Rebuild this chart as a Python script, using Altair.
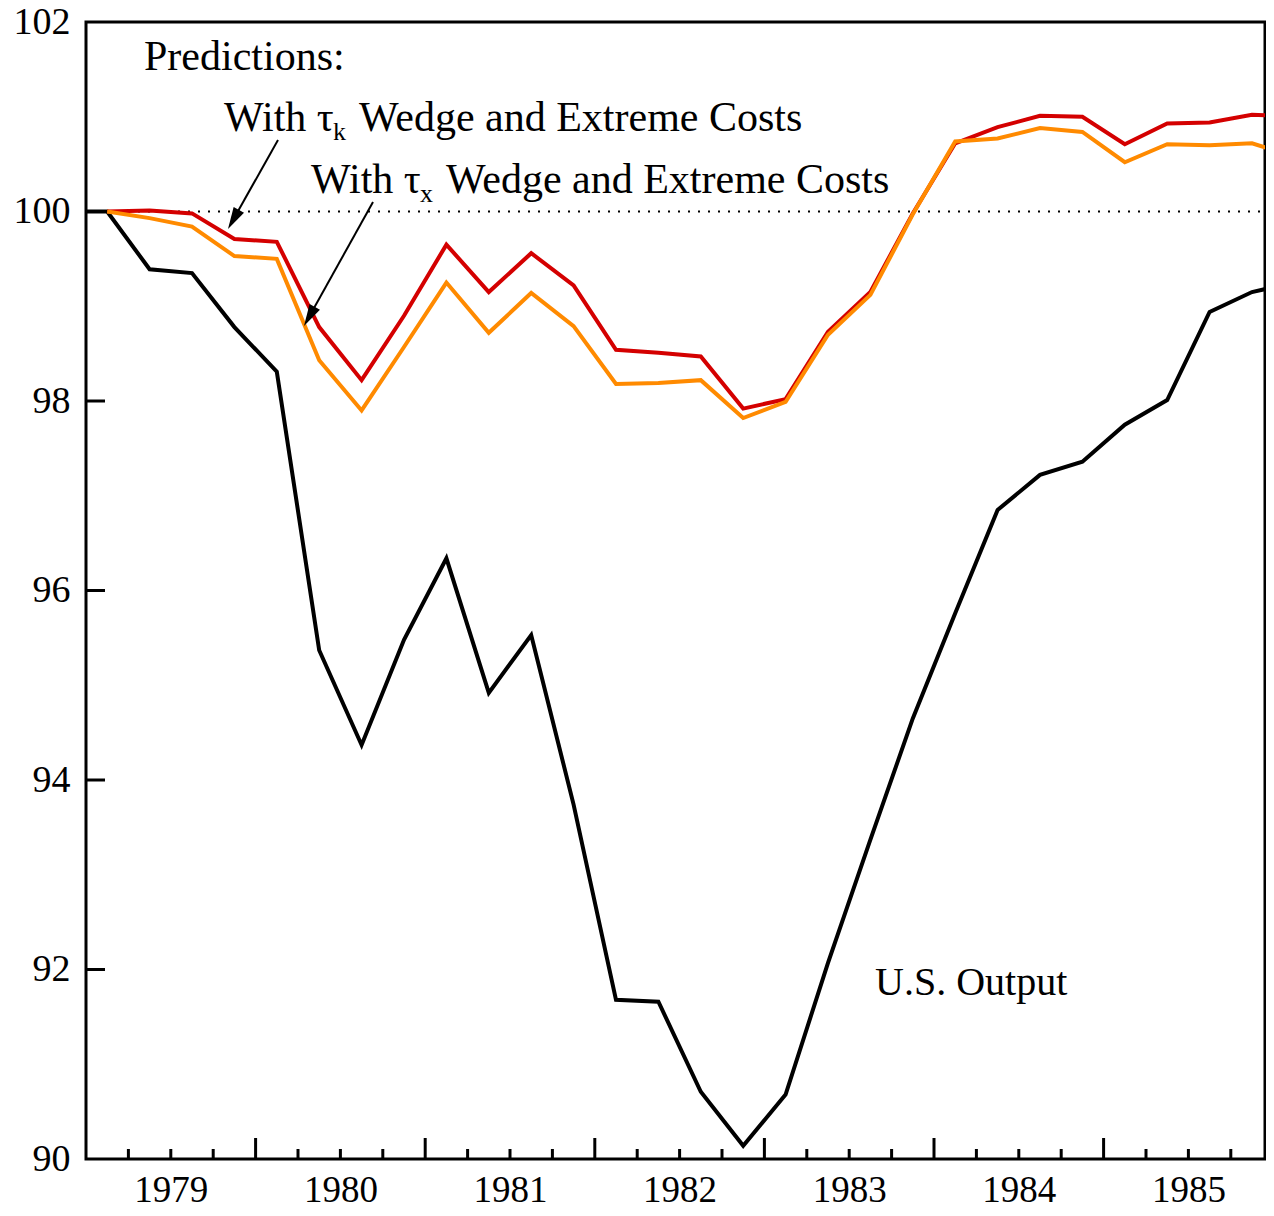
import altair as alt
import pandas as pd

# ---------------- data ----------------
quarters = [
    "1978Q4",
    "1979Q1", "1979Q2", "1979Q3", "1979Q4",
    "1980Q1", "1980Q2", "1980Q3", "1980Q4",
    "1981Q1", "1981Q2", "1981Q3", "1981Q4",
    "1982Q1", "1982Q2", "1982Q3", "1982Q4",
    "1983Q1", "1983Q2", "1983Q3", "1983Q4",
    "1984Q1", "1984Q2", "1984Q3", "1984Q4",
    "1985Q1", "1985Q2", "1985Q3", "1985Q4",
    "1986Q1",
]

us_output = [
    100.0,
    100.0, 99.39, 99.35, 98.78,
    98.31, 95.37, 94.37, 95.48,
    96.34, 94.92, 95.53, 93.74,
    91.68, 91.66, 90.71, 90.14,
    90.68, 92.07, 93.37, 94.65,
    95.76, 96.85, 97.22, 97.36,
    97.75, 98.01, 98.94, 99.15,
    99.25,
]

tau_k_pred = [
    None,
    100.0, 100.01, 99.98, 99.71,
    99.68, 98.78, 98.22, 98.90,
    99.65, 99.15, 99.56, 99.22,
    98.54, 98.51, 98.47, 97.92,
    98.02, 98.73, 99.15, 99.98,
    100.72, 100.89, 101.01, 101.00,
    100.71, 100.93, 100.94, 101.02,
    101.01,
]

tau_x_pred = [
    None,
    100.0, 99.93, 99.84, 99.53,
    99.50, 98.43, 97.90, 98.57,
    99.25, 98.72, 99.14, 98.79,
    98.18, 98.19, 98.22, 97.82,
    97.99, 98.70, 99.12, 99.97,
    100.74, 100.77, 100.88, 100.84,
    100.52, 100.71, 100.70, 100.72,
    100.58,
]

year_labels = ["1979", "1980", "1981", "1982", "1983", "1984", "1985"]
y_labels = [90, 92, 94, 96, 98, 100, 102]
y_inner_ticks = [92, 94, 96, 98, 100]
major_ticks = [1980, 1981, 1982, 1983, 1984, 1985]
minor_ticks = [y + q / 4 for y in range(1979, 1986) for q in (1, 2, 3)]

FONT = "Liberation Serif"
PX_PER_YEAR = 169.6
W, H = 1179, 1137
X_END = 1979 + W / PX_PER_YEAR


def qpos(q):
    return int(q[:4]) + (int(q[5]) - 0.5) / 4


xs = [qpos(q) for q in quarters]


def series_df(vals):
    return pd.DataFrame(
        [{"quarter": q, "x": x, "v": v} for q, x, v in zip(quarters, xs, vals) if v is not None]
    )


df_us = series_df(us_output)
df_k = series_df(tau_k_pred)
df_x = series_df(tau_x_pred)

xscale = alt.Scale(domain=[1979, X_END], nice=False, zero=False)
yscale = alt.Scale(domain=[90, 102], nice=False, zero=False)

x_axis = alt.Axis(
    values=[int(y) + 0.5 for y in year_labels],
    labelExpr="'' + floor(datum.value)",
    ticks=False, domain=False, grid=False, title=None,
    labelFont=FONT, labelFontSize=37, labelColor="black",
    labelPadding=13, labelFlush=False, labelOverlap=False,
)
y_axis = alt.Axis(
    values=y_labels, format="d",
    ticks=False, domain=False, grid=False, title=None,
    labelFont=FONT, labelFontSize=38, labelColor="black",
    labelPadding=16, labelFlush=False, labelOverlap=False,
)

X = alt.X("x:Q", scale=xscale, axis=x_axis)
Y = alt.Y("v:Q", scale=yscale, axis=y_axis)

# reference dotted line at 100
ref = alt.Chart(pd.DataFrame({"v": [100]})).mark_rule(
    color="black", strokeWidth=2, strokeDash=[2, 8]
).encode(y=alt.Y("v:Q", scale=yscale), x=alt.value(2), x2=alt.value(W - 2))

line_us = alt.Chart(df_us).mark_line(color="black", strokeWidth=4, clip=True).encode(x=X, y=Y)
line_k = alt.Chart(df_k).mark_line(color="#d40000", strokeWidth=4, clip=True).encode(
    x=alt.X("x:Q", scale=xscale), y=alt.Y("v:Q", scale=yscale))
line_x = alt.Chart(df_x).mark_line(color="#ff8a00", strokeWidth=4, clip=True).encode(
    x=alt.X("x:Q", scale=xscale), y=alt.Y("v:Q", scale=yscale))

# inward ticks on the bottom axis
maj = alt.Chart(pd.DataFrame({"x": major_ticks})).mark_rule(color="black", strokeWidth=3).encode(
    x=alt.X("x:Q", scale=xscale), y=alt.value(H), y2=alt.value(H - 21))
mnr = alt.Chart(pd.DataFrame({"x": minor_ticks})).mark_rule(color="black", strokeWidth=3).encode(
    x=alt.X("x:Q", scale=xscale), y=alt.value(H), y2=alt.value(H - 10))
# inward ticks on the left axis
yt = alt.Chart(pd.DataFrame({"v": y_inner_ticks})).mark_rule(color="black", strokeWidth=3).encode(
    y=alt.Y("v:Q", scale=yscale), x=alt.value(0), x2=alt.value(19))


def txt(s, px, py, size=42, align="left"):
    return alt.Chart(pd.DataFrame({"t": [s]})).mark_text(
        font=FONT, fontSize=size, color="black", align=align, baseline="alphabetic"
    ).encode(text="t:N", x=alt.value(px - 86), y=alt.value(py - 22))


texts = [
    txt("Predictions:", 144, 70),
    txt("With \u03c4", 224, 131),
    txt("k", 333, 140, size=26),
    txt("Wedge and Extreme Costs", 359, 131),
    txt("With \u03c4", 311, 193),
    txt("x", 420, 202, size=26),
    txt("Wedge and Extreme Costs", 446, 193),
    txt("U.S. Output", 875, 995, size=40),
]


def arrow(x0, y0, x1, y1, angle):
    # page pixel coords -> plot coords
    x0, y0, x1, y1 = x0 - 86, y0 - 22, x1 - 86, y1 - 22
    dx, dy = x1 - x0, y1 - y0
    n = (dx * dx + dy * dy) ** 0.5
    ex, ey = x1 - 8 * dx / n, y1 - 8 * dy / n
    shaft = alt.Chart(pd.DataFrame({"a": [0]})).mark_rule(color="black", strokeWidth=2).encode(
        x=alt.value(x0), y=alt.value(y0), x2=alt.value(ex), y2=alt.value(ey))
    head = alt.Chart(pd.DataFrame({"a": [0]})).mark_point(
        shape="M0,0L0.27,-1L-0.27,-1Z", filled=True, color="black", opacity=1,
        size=1936, angle=angle, strokeWidth=0,
    ).encode(x=alt.value(x1), y=alt.value(y1))
    return [shaft, head]


arrows = arrow(278, 140, 228, 229, 29.5) + arrow(373, 202, 304, 326, 29.3)

chart = alt.layer(
    ref, line_us, line_k, line_x, maj, mnr, yt, *texts, *arrows
).properties(
    width=W, height=H,
    padding={"left": 78, "top": 14, "right": 1, "bottom": 49},
    autosize=alt.AutoSizeParams(type="none"),
    background="white",
).configure_view(
    stroke="black", strokeWidth=3
)

chart.save("out.html", embed_options={"renderer": "svg", "actions": False})
